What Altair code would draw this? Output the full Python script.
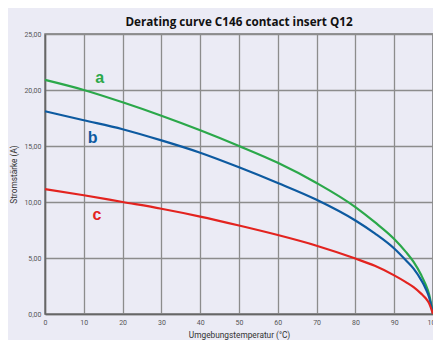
import altair as alt
import pandas as pd

temps = [0, 10, 20, 30, 40, 50, 60, 70, 80, 85, 90, 93, 95, 97, 98, 99, 100]
curve_a = [20.9, 20.0, 18.9, 17.7, 16.4, 15.0, 13.5, 11.7, 9.55, 8.2, 6.7, 5.55, 4.65, 3.45, 2.7, 1.75, 0.0]
curve_b = [18.1, 17.3, 16.5, 15.5, 14.4, 13.1, 11.7, 10.2, 8.35, 7.2, 5.85, 4.8, 4.05, 3.0, 2.35, 1.5, 0.0]
curve_c = [11.15, 10.6, 10.0, 9.4, 8.7, 7.9, 7.05, 6.1, 4.95, 4.3, 3.45, 2.85, 2.4, 1.8, 1.45, 0.95, 0.0]

series_names = ["a", "b", "c"]
series_colors = ["#2ba84a", "#0d5aa0", "#e3231f"]
label_x = [14.1, 12.3, 13.4]
label_y = [21.1, 15.7, 8.8]

x_ticks = list(range(0, 101, 10))
y_ticks = [0, 5, 10, 15, 20, 25]

rows = []
for name, vals in zip(series_names, [curve_a, curve_b, curve_c]):
    for t, v in zip(temps, vals):
        rows.append({"series": name, "T": t, "I": v})
df = pd.DataFrame(rows)
labels = pd.DataFrame({"series": series_names, "T": label_x, "I": label_y})

color_scale = alt.Scale(domain=series_names, range=series_colors)

x_enc = alt.X("T:Q", scale=alt.Scale(domain=[0, 100], nice=False),
              axis=alt.Axis(values=x_ticks, title="Umgebungstemperatur (°C)",
                            format="d", labelFlush=False, labelOverlap=False))
y_enc = alt.Y("I:Q", scale=alt.Scale(domain=[0, 25], nice=False),
              axis=alt.Axis(values=y_ticks, title="Stromstärke (A)", labelOverlap=False,
                            labelExpr="replace(format(datum.value, '.2f'), '.', ',')"))

lines = alt.Chart(df).mark_line(strokeWidth=2.2, interpolate="monotone").encode(
    x=x_enc, y=y_enc,
    color=alt.Color("series:N", scale=color_scale, legend=None),
    detail="series:N",
)

texts = alt.Chart(labels).mark_text(fontSize=16, fontWeight="bold", font="Liberation Sans",
                                     baseline="middle", align="center").encode(
    x=x_enc, y=y_enc,
    color=alt.Color("series:N", scale=color_scale, legend=None),
    text="series:N",
)

chart = (lines + texts).properties(
    width=388, height=280,
    title=alt.TitleParams("Derating curve C146 contact insert Q12", fontSize=11.7,
                          font="Open Sans", fontWeight="bold", color="#111", offset=4,
                          dy=3, anchor="middle"),
    autosize=alt.AutoSizeParams(type="none"),
    padding={"left": 37, "top": 26, "right": 0, "bottom": 26},
    background="#ebebf5",
).configure_view(
    stroke="#777777", strokeWidth=1.5, fill="#ebebf5"
).configure_axis(
    grid=True, gridColor="#8c8c8c", gridWidth=1.3, domainColor="#666666", domainWidth=1.5,
    tickSize=0, labelFont="Roboto", labelFontSize=7, labelColor="#555555",
    titleFont="Roboto", titleFontSize=8.3, titleFontWeight="normal", titleColor="#333333",
    labelPadding=4, labelOverlap=False,
).configure_axisY(titlePadding=5).configure_axisX(titlePadding=5)

chart.save("out.html", embed_options={"renderer": "svg", "actions": False})
